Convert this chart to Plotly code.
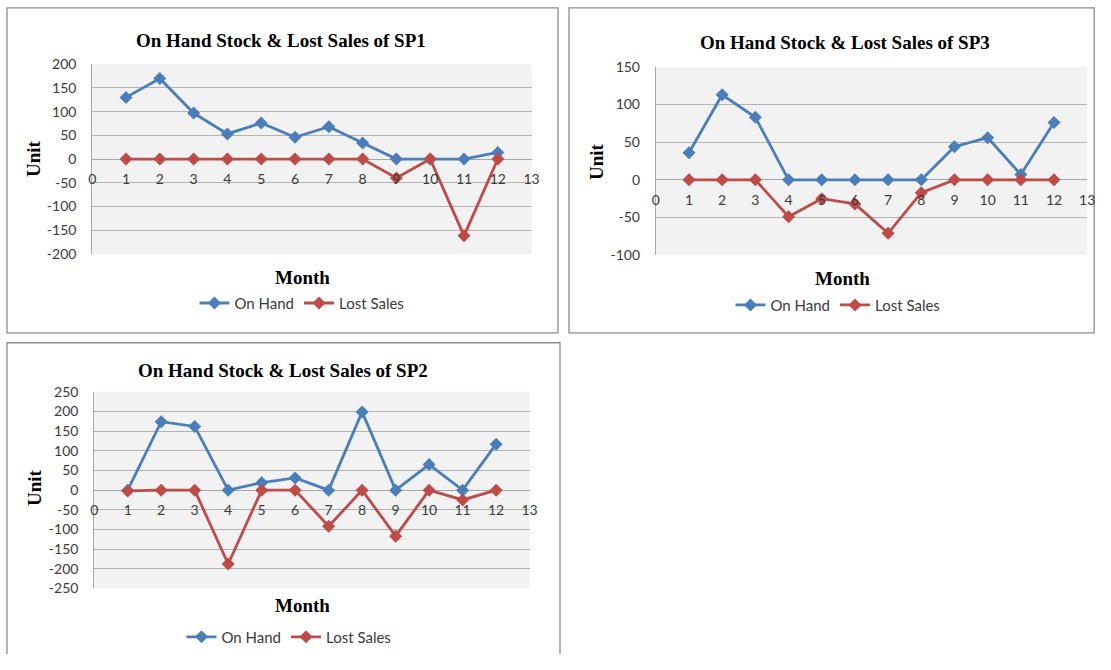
import plotly.graph_objects as go

# The harness captures the figure from the page origin; a figure that fits
# inside the window together with the default body margin is captured 1:1.
W, H = 1095, 654

# ---------------- data ----------------
months = list(range(1, 13))
x_tick_values = list(range(0, 14))
series_names = ["On Hand", "Lost Sales"]

sp1_on_hand = [130, 170, 97, 53, 76, 46, 68, 34, 0, 0, 0, 14]
sp1_lost_sales = [0, 0, 0, 0, 0, 0, 0, 0, -40, 0, -162, 0]

sp3_on_hand = [36, 113, 83, 0, 0, 0, 0, 0, 44, 56, 7, 76]
sp3_lost_sales = [0, 0, 0, -49, -25, -32, -71, -17, 0, 0, 0, 0]

sp2_on_hand = [0, 174, 162, 0, 19, 31, 0, 199, 0, 65, 0, 117]
sp2_lost_sales = [-2, 0, 0, -188, 0, 0, -92, 0, -117, 0, -25, 0]

titles = ["On Hand Stock & Lost Sales of SP1",
          "On Hand Stock & Lost Sales of SP3",
          "On Hand Stock & Lost Sales of SP2"]
sp1_y_ticks = [-200, -150, -100, -50, 0, 50, 100, 150, 200]
sp3_y_ticks = [-100, -50, 0, 50, 100, 150]
sp2_y_ticks = [-250, -200, -150, -100, -50, 0, 50, 100, 150, 200, 250]
x_title = "Month"
y_title = "Unit"

# ---------------- styling / layout ----------------
BLUE = "#4A7EBB"
RED = "#BE4B48"
GRID = "#B3B3B3"
PLOT_BG = "#F2F2F2"
SANS = "Lato, 'Liberation Sans', sans-serif"
TICK_FONT = dict(family=SANS, size=14, color="#3A3A3A")
SERIF = "'Liberation Serif', 'Times New Roman', serif"


def fx(px):
    return px / W


def fy(py):
    return 1 - py / H


# pixel geometry of each panel (layout only)
panels = [
    dict(plot=(92.2, 531.6, 65.0, 257.0), box=(7, 8, 558, 337),
         title=(281, 41), xt=(303, 281), yt=(33, 161), leg=(302, 307)),
    dict(plot=(655.8, 1087.2, 67.7, 258.3), box=(569, 8, W - 0.8, 337),
         title=(845, 43), xt=(843, 282), yt=(596, 163), leg=(838, 309)),
    dict(plot=(94.2, 529.6, 396.7, 595.7), box=(7, 347, 560, 700),
         title=(283, 375), xt=(302, 613), yt=(35, 494), leg=(289, 645)),
]

data_sets = [
    (sp1_on_hand, sp1_lost_sales, sp1_y_ticks),
    (sp3_on_hand, sp3_lost_sales, sp3_y_ticks),
    (sp2_on_hand, sp2_lost_sales, sp2_y_ticks),
]

fig = go.Figure()
shapes = []
annotations = []
layout_upd = {}

for i, (pan, (on_hand, lost, yticks), title) in enumerate(zip(panels, data_sets, titles)):
    n = "" if i == 0 else str(i + 1)
    leg_name = "legend" if i == 0 else f"legend{i + 1}"
    x0, x1, ytop, ybot = pan["plot"]
    ylo, yhi = min(yticks), max(yticks)
    dom_lo, dom_hi = fy(ybot), fy(ytop)
    zero_pos = dom_lo + (0 - ylo) / (yhi - ylo) * (dom_hi - dom_lo)

    for vals, name, col in ((on_hand, series_names[0], BLUE), (lost, series_names[1], RED)):
        fig.add_trace(go.Scatter(
            x=months, y=vals, name=name, mode="lines+markers",
            line=dict(color=col, width=2.8),
            marker=dict(symbol="diamond", size=10, color=col),
            xaxis="x" + n, yaxis="y" + n, legend=leg_name,
        ))

    layout_upd["xaxis" + n] = dict(
        domain=[fx(x0), fx(x1)], range=[0, 13],
        tickvals=x_tick_values, ticktext=[str(v) for v in x_tick_values],
        anchor="free", position=zero_pos, showgrid=False, zeroline=False,
        showline=False, ticks="outside", ticklen=7, tickcolor="rgba(0,0,0,0)",
        tickfont=TICK_FONT, fixedrange=True, automargin=False,
        ticklabeloverflow="allow",
    )
    layout_upd["yaxis" + n] = dict(
        domain=[dom_lo, dom_hi], range=[ylo, yhi],
        tickvals=yticks, ticktext=[str(v) for v in yticks],
        anchor="x" + n, showgrid=True, gridcolor=GRID, gridwidth=1,
        zeroline=True, zerolinecolor="#A6A6A6", zerolinewidth=1,
        showline=True, linecolor="#A6A6A6", linewidth=1,
        ticks="outside", ticklen=12, tickcolor="rgba(0,0,0,0)",
        tickfont=TICK_FONT, fixedrange=True, automargin=False,
        ticklabeloverflow="allow",
    )
    layout_upd[leg_name] = dict(
        orientation="h", x=fx(pan["leg"][0]), y=fy(pan["leg"][1]),
        xanchor="center", yanchor="middle", bgcolor="rgba(0,0,0,0)",
        font=dict(family=SANS, size=15, color="#3A3A3A"),
        itemwidth=30, tracegroupgap=0,
    )

    bx0, by0, bx1, by1 = pan["box"]
    shapes.append(dict(type="rect", xref="paper", yref="paper",
                       x0=fx(bx0), x1=fx(bx1), y0=fy(by1), y1=fy(by0),
                       line=dict(color="#8C8C8C", width=1.3), layer="below"))

    annotations.append(dict(text=title, x=fx(pan["title"][0]), y=fy(pan["title"][1]),
                            xref="paper", yref="paper", showarrow=False,
                            xanchor="center", yanchor="middle",
                            font=dict(family=SERIF, size=19, color="#000", weight="bold")))
    annotations.append(dict(text=x_title, x=fx(pan["xt"][0]), y=fy(pan["xt"][1]),
                            xref="paper", yref="paper", showarrow=False,
                            xanchor="center", yanchor="middle",
                            font=dict(family=SERIF, size=19, color="#000", weight="bold")))
    annotations.append(dict(text=y_title, x=fx(pan["yt"][0]), y=fy(pan["yt"][1]),
                            xref="paper", yref="paper", showarrow=False, textangle=-90,
                            xanchor="center", yanchor="middle",
                            font=dict(family=SERIF, size=19, color="#000", weight="bold")))

fig.update_layout(
    width=W, height=H, margin=dict(l=0, r=0, t=0, b=0),
    paper_bgcolor="white", plot_bgcolor=PLOT_BG,
    shapes=shapes, annotations=annotations, showlegend=True,
    **layout_upd,
)

fig.write_html("out.html", include_plotlyjs=True, config={"displayModeBar": False})
